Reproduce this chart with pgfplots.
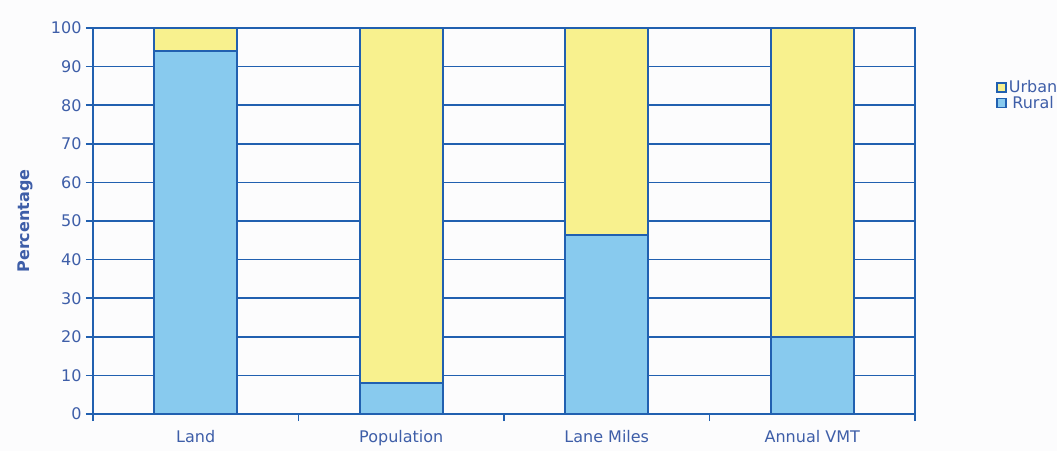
\documentclass[border=0pt]{standalone}
\usepackage{pgfplots}
\pgfplotsset{compat=1.18}
\usepackage{fontspec}
\setmainfont{DejaVu Sans}
\definecolor{ruralblue}{HTML}{88CAEE}
\definecolor{urbanyellow}{HTML}{F8F18E}
\definecolor{edgeblue}{HTML}{2160B0}
\definecolor{txtblue}{HTML}{3E5EA8}
\definecolor{bgwhite}{HTML}{FCFCFD}
\begin{document}
\begin{tikzpicture}
\path[use as bounding box] (-93pt,-37pt) rectangle (964pt,414pt);
\fill[bgwhite] (-93pt,-37pt) rectangle (964pt,414pt);
\begin{axis}[
  at={(0pt,0pt)}, anchor=south west,
  scale only axis,
  width=822pt, height=386pt,
  ybar stacked,
  bar width=83pt,
  xmin=-0.5, xmax=3.5,
  ymin=0, ymax=100,
  ytick={0,10,...,100},
  xtick={-0.5,0.5,1.5,2.5,3.5},
  xticklabels={},
  extra x ticks={0,1,2,3},
  extra x tick labels={Land,Population,Lane Miles,Annual VMT},
  extra x tick style={major tick length=0pt},
  xticklabel style={yshift=-13pt},
  xtick pos=bottom, ytick pos=left,
  x tick style={edgeblue, line width=1.4pt},
  y tick style={edgeblue, line width=1.6pt},
  major tick length=7pt,
  tick align=outside,
  axis line style={edgeblue, line width=1.8pt},
  ymajorgrids,
  grid style={edgeblue, line width=1.6pt},
  tick label style={font=\fontsize{16}{19}\selectfont, text=txtblue},
  /pgf/number format/assume math mode=true,
  yticklabel style={xshift=-1pt},
  every axis y label/.style={at={(axis description cs:0,0.5)}, xshift=-68pt, rotate=90, anchor=center, font=\bfseries\fontsize{16}{19}\selectfont, text=txtblue},
  ylabel={Percentage},
  legend style={at={(axis description cs:1.095,0.826)}, anchor=west, draw=none, fill=none,
    font=\fontsize{16}{19}\selectfont, text=txtblue, row sep=-2pt,
    /tikz/every even column/.append style={column sep=0pt}},
  legend image code/.code={\draw[#1, line width=1.6pt] (0pt,-4.5pt) rectangle (9pt,4.5pt);},
  reverse legend,
]
\addplot[fill=ruralblue, draw=edgeblue, line width=2pt] coordinates {(0,94) (1,8) (2,46.5) (3,20)};
\addplot[fill=urbanyellow, draw=edgeblue, line width=2pt] coordinates {(0,6) (1,92) (2,53.5) (3,80)};
\legend{Rural,Urban}
\end{axis}
\end{tikzpicture}
\end{document}
